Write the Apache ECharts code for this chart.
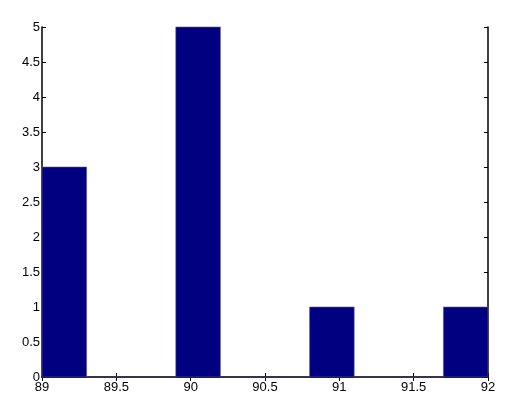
<!DOCTYPE html>
<html>
<head>
<meta charset="utf-8">
<script src="https://cdn.jsdelivr.net/npm/echarts@6/dist/echarts.min.js"></script>
<style>
  html, body { margin: 0; padding: 0; background: #fff; }
  #main { width: 521px; height: 405px; }
</style>
</head>
<body>
<div id="main"></div>
<script>
// histogram bins (left edge, right edge) and counts
var binStart = [89.0, 89.3, 89.6, 89.9, 90.2, 90.5, 90.8, 91.1, 91.4, 91.7];
var binEnd   = [89.3, 89.6, 89.9, 90.2, 90.5, 90.8, 91.1, 91.4, 91.7, 92.0];
var counts   = [3, 0, 0, 5, 0, 0, 1, 0, 0, 1];

var xTicks = [89, 89.5, 90, 90.5, 91, 91.5, 92];
var yTicks = [0, 0.5, 1, 1.5, 2, 2.5, 3, 3.5, 4, 4.5, 5];

var histData = [];
for (var i = 0; i < counts.length; i++) {
    histData.push([binStart[i], binEnd[i], counts[i]]);
}

var myChart = echarts.init(document.getElementById('main'));

var labelFont = {
    color: '#000',
    fontFamily: 'Liberation Sans, Arial, sans-serif',
    fontSize: 13
};

var option = {
    animation: false,
    backgroundColor: '#fff',
    grid: { left: 42, right: 33, top: 27, bottom: 28 },
    xAxis: [{
        type: 'value',
        min: xTicks[0],
        max: xTicks[xTicks.length - 1],
        interval: 0.5,
        position: 'bottom',
        axisLine: { show: true, lineStyle: { color: '#000', width: 1.5 } },
        axisTick: { show: true, inside: true, length: 4, lineStyle: { color: '#000' } },
        axisLabel: Object.assign({ margin: 4 }, labelFont, {
            formatter: function (v) { return String(v); }
        }),
        splitLine: { show: false }
    }, {
        type: 'value',
        min: xTicks[0],
        max: xTicks[xTicks.length - 1],
        interval: 0.5,
        position: 'top',
        axisLine: { show: true, lineStyle: { color: '#000', width: 1.5 } },
        axisTick: { show: true, inside: true, length: 4, lineStyle: { color: '#000' } },
        axisLabel: { show: false },
        splitLine: { show: false }
    }],
    yAxis: [{
        type: 'value',
        min: yTicks[0],
        max: yTicks[yTicks.length - 1],
        interval: 0.5,
        position: 'left',
        axisLine: { show: true, lineStyle: { color: '#000', width: 1.5 } },
        axisTick: { show: true, inside: true, length: 4, lineStyle: { color: '#000' } },
        axisLabel: Object.assign({ margin: 2, padding: [0, 0, 5, 0] }, labelFont),
        splitLine: { show: false }
    }, {
        type: 'value',
        min: yTicks[0],
        max: yTicks[yTicks.length - 1],
        interval: 0.5,
        position: 'right',
        axisLine: { show: true, lineStyle: { color: '#000', width: 1.5 } },
        axisTick: { show: true, inside: true, length: 4, lineStyle: { color: '#000' } },
        axisLabel: { show: false },
        splitLine: { show: false }
    }],
    series: [{
        type: 'custom',
        xAxisIndex: 0,
        yAxisIndex: 0,
        data: histData,
        renderItem: function (params, api) {
            var p0 = api.coord([api.value(0), api.value(2)]);
            var p1 = api.coord([api.value(1), 0]);
            return {
                type: 'rect',
                shape: { x: p0[0], y: p0[1], width: p1[0] - p0[0], height: p1[1] - p0[1] },
                style: { fill: '#000080', stroke: '#5a5a8a', lineWidth: 0.6 }
            };
        },
        z: 1
    }]
};

myChart.setOption(option);
</script>
</body>
</html>
